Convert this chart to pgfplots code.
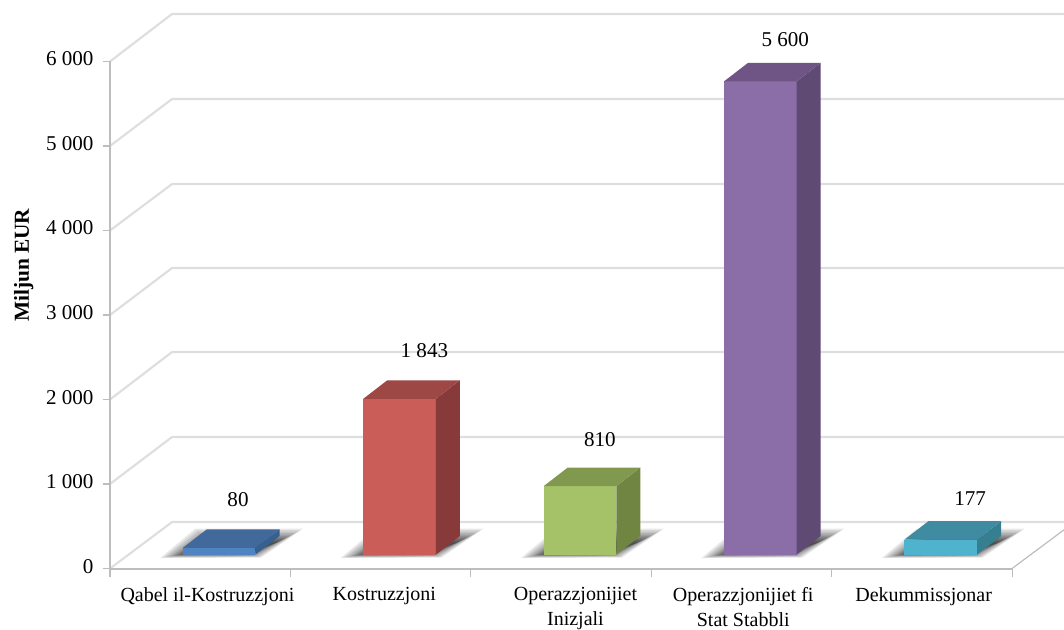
\documentclass[border=0pt]{standalone}
\usepackage{fontspec}
\setmainfont{Liberation Serif}
\usepackage{pgfplots}
\pgfplotsset{compat=1.18}

\definecolor{wallgrid}{HTML}{DEDEDE}
\definecolor{axisgray}{HTML}{BDBDBD}
\definecolor{blueF}{HTML}{4F84C1}\definecolor{blueT}{HTML}{41699B}\definecolor{blueS}{HTML}{35608F}
\definecolor{redF}{HTML}{CA5D57}\definecolor{redT}{HTML}{9D4845}\definecolor{redS}{HTML}{873A39}
\definecolor{greenF}{HTML}{A6C268}\definecolor{greenT}{HTML}{81994F}\definecolor{greenS}{HTML}{718543}
\definecolor{purpleF}{HTML}{8B6DA8}\definecolor{purpleT}{HTML}{6F5586}\definecolor{purpleS}{HTML}{5E4A73}
\definecolor{tealF}{HTML}{4FB3CE}\definecolor{tealT}{HTML}{3F8BA2}\definecolor{tealS}{HTML}{357F90}

% soft floor shadow: nested polygons, each one inset a little more
\newcommand{\floorshadow}[1]{%
  \pgfplotsinvokeforeach{0,1.5,3,4.5,6,7,8,9,10,11,12,13,14}{%
    \addplot[draw=none,fill=black,fill opacity=.085] coordinates {
      ({bx(#1,-59+1.8*##1)},{by(0,-3.5+.3*##1)}) ({bx(#1,42-##1)},{by(0,-3+.3*##1)})
      ({bx(#1,84-1.8*##1)},{by(0,26-##1)}) ({bx(#1,-24+##1)},{by(0,26-##1)})};
  }}
% args: category, value, colour prefix, label dx, label dy (px)
\newcommand{\solidbar}[5]{%
  \addplot[ybar,bar width=54.4pt,bar shift=0pt,draw=none,fill=#3F,xshift=14.1pt,yshift=10.5pt,
    nodes near coords,every node near coord/.append style={anchor=center,text=black,font=\fontsize{15.8}{18}\selectfont,xshift=#4*.75pt,yshift=#5*.75pt}]
    coordinates {(#1,#2)};
  \addplot[draw=none,fill=#3S] coordinates {
    ({bx(#1,36.3)},{by(0,0)}) ({bx(#1,60.3)},{by(0,18.5)})
    ({bx(#1,60.3)},{by(#2,18.5)}) ({bx(#1,36.3)},{by(#2,0)})};
  \addplot[draw=none,fill=#3T] coordinates {
    ({bx(#1,-36.3)},{by(#2,0)}) ({bx(#1,36.3)},{by(#2,0)})
    ({bx(#1,60.3)},{by(#2,18.5)}) ({bx(#1,-12.3)},{by(#2,18.5)})};
}

\begin{document}
\begin{tikzpicture}
\path[use as bounding box] (0,0) rectangle (798pt,472.5pt);
\begin{axis}[
    at={(82.5pt,46.1pt)},anchor=south west,
    scale only axis,width=715.5pt,height=415.9pt,
    xmin=-0.5,xmax=4.788,ymin=0,ymax=6562,
    clip=false,no markers,
    declare function={
      bx(\i,\X)=\i+(19+\X)/180.4;
      by(\v,\Y)=\v+(14+\Y)/.0845;
    },
    axis lines=left,axis line style={draw=none,-},
    font=\fontsize{15}{19}\selectfont,
    /pgf/number format/assume math mode=true,
    /pgf/number format/1000 sep={\ },
    scaled y ticks=false,
    ytick={0,1000,2000,3000,4000,5000,6000},
    xtick={0.04,1.02,2.08,3.01,4.01},
    xticklabels={Qabel il-Kostruzzjoni,Kostruzzjoni,Operazzjonijiet\\Inizjali,Operazzjonijiet fi\\Stat Stabbli,Dekummissjonar},
    xticklabel style={align=center,anchor=north,inner ysep=0pt,yshift=-8.3pt},
    minor xtick={-0.5,0.5,1.5,2.5,3.5,4.5},
    tick align=outside,
    major tick style={draw=axisgray,line width=.8pt},
    minor tick style={draw=axisgray,line width=.8pt},
    major x tick style={draw=none},
    subtickwidth=6pt,
    tickwidth=5.5pt,
    yticklabel style={xshift=-3.4pt,yshift=1.8pt,font=\fontsize{15.8}{18}\selectfont},
    ylabel={\bfseries Miljun EUR},
    ylabel style={at={(axis description cs:-0.0905,0.547)},anchor=center,font=\fontsize{16}{18}\selectfont},
    unbounded coords=jump,
]
% walls and floor
\addplot[wallgrid,line width=1.6pt,line join=round] table {
x y
-0.5 6000
-0.156 6562
4.788 6562
nan nan
-0.5 5000
-0.156 5556
4.788 5556
nan nan
-0.5 4000
-0.156 4550
4.788 4550
nan nan
-0.5 3000
-0.156 3556
4.788 3556
nan nan
-0.5 2000
-0.156 2562
4.788 2562
nan nan
-0.5 1000
-0.156 1556
4.788 1556
nan nan
-0.5 0
-0.156 550
4.788 550
};
\addplot[axisgray,line width=1.5pt] coordinates {(-0.5,6000)(-0.5,0)(4.5,0)};
\addplot[axisgray,line width=.9pt] coordinates {(4.5,0)(4.788,458)};
\floorshadow{0}\floorshadow{1}\floorshadow{2}\floorshadow{3}\floorshadow{4}
\solidbar{0}{80}{blue}{19}{48}
\solidbar{1}{1843}{red}{25}{48}
\solidbar{2}{810}{green}{20}{46}
\solidbar{3}{5600}{purple}{25}{42}
\solidbar{4}{177}{teal}{29.5}{41}
\end{axis}
\end{tikzpicture}
\end{document}
